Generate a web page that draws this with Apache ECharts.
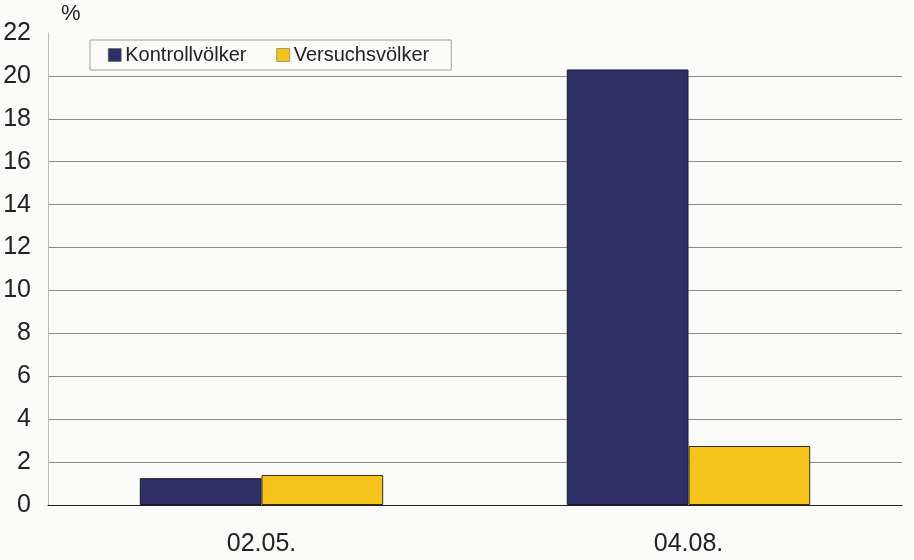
<!DOCTYPE html>
<html><head><meta charset="utf-8">
<script src="https://cdn.jsdelivr.net/npm/echarts@6/dist/echarts.min.js"></script>
<style>html,body{margin:0;padding:0;background:#fbfbfa}#c{width:914px;height:560px}</style>
</head><body><div id="c"></div>
<script>
const categories = ['02.05.', '04.08.'];
const kontroll = [1.25, 20.3];
const versuch = [1.4, 2.75];
const seriesNames = ['Kontrollvölker', 'Versuchsvölker'];

const chart = echarts.init(document.getElementById('c'));
chart.setOption({
  backgroundColor: '#fbfbfa',
  animation: false,
  grid: {left: 48, right: 12, top: 33, bottom: 55},
  legend: {
    data: seriesNames, left: 90, top: 40,
    padding: [5, 22, 5, 18], itemGap: 30,
    borderColor: '#a0a0a0', borderWidth: 1, backgroundColor: '#fbfbfa',
    itemWidth: 13, itemHeight: 13, icon: 'rect',
    itemStyle: {borderColor: '#555', borderWidth: 0.5},
    textStyle: {fontFamily: 'Liberation Sans', fontSize: 20, color: '#222', padding: [0,0,0,-1]}
  },
  graphic: [{type: 'text', left: 61, top: 3, style: {text: '%', fontFamily: 'Liberation Sans', fontSize: 22, fill: '#222'}}],
  xAxis: {
    type: 'category', data: categories,
    axisLine: {lineStyle: {color: '#222', width: 1}},
    axisTick: {show: false},
    axisLabel: {fontFamily: 'Liberation Sans', fontSize: 25, color: '#222', margin: 27}
  },
  yAxis: {
    type: 'value', min: 0, max: 22, interval: 2,
    axisLine: {show: true, lineStyle: {color: '#bbb'}},
    axisTick: {show: false},
    axisLabel: {fontFamily: 'Liberation Sans', fontSize: 25, color: '#222', margin: 17},
    splitLine: {showMaxLine: false, lineStyle: {color: '#8a8a8a', width: 1}}
  },
  series: [
    {name: seriesNames[0], type: 'bar', data: kontroll, barGap: '0%', barCategoryGap: '43%',
     itemStyle: {color: '#2f2f68', borderColor: '#1a1a2a', borderWidth: 1}},
    {name: seriesNames[1], type: 'bar', data: versuch,
     itemStyle: {color: '#f6c31c', borderColor: '#3a3010', borderWidth: 1}}
  ]
});
</script></body></html>
